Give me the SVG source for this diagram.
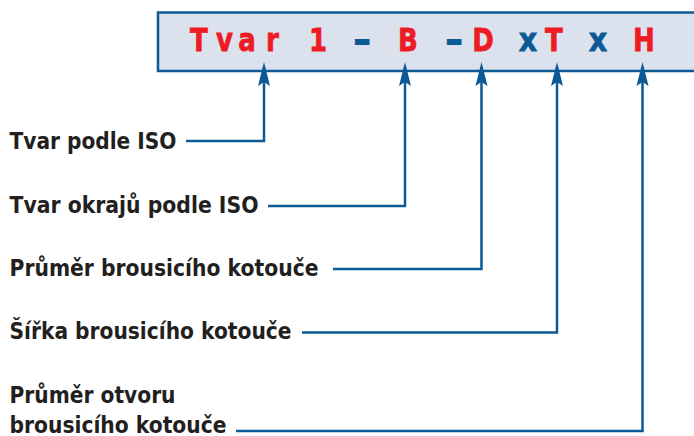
<svg xmlns="http://www.w3.org/2000/svg" width="694" height="436" viewBox="0 0 694 436">
<style>
.code{font-family:"DejaVu Sans","Verdana",sans-serif;font-weight:bold;font-size:32.5px;text-anchor:middle;stroke-width:0.8}
.r{fill:#ed1c24;stroke:#ed1c24}
.b{fill:#0b5a95;stroke:#0b5a95}
.d{stroke-width:1.8}
.lbl{font-family:"DejaVu Sans","Verdana",sans-serif;font-weight:bold;font-size:23px;fill:#231f20}
.conn{fill:none;stroke:#0b5a95;stroke-width:2.5;marker-end:url(#ah)}
</style>
<defs>
<marker id="ah" markerUnits="userSpaceOnUse" orient="auto" refX="0" refY="0" markerWidth="30" markerHeight="30" viewBox="-20 -8 30 16" style="overflow:visible">
<path d="M5,0 L-19,-6 L-15,0 L-19,6 Z" fill="#0b5a95"/>
</marker>
</defs>
<rect width="694" height="436" fill="#ffffff"/>
<g id="code-box">
<rect x="158" y="12.5" width="545" height="58.5" fill="#dbe2ee" stroke="#0b5a95" stroke-width="2.5"/>
<g transform="scale(0.8,1)" class="code">
<text class="r" x="248.75" y="51">T</text>
<text class="r" x="280.6" y="51">v</text>
<text class="r" x="308.75" y="51">a</text>
<text class="r" x="340.6" y="51">r</text>
<text class="r" x="397.5" y="51">1</text>
<text class="r" x="510" y="51">B</text>
<text class="r" x="603.75" y="51">D</text>
<text class="r" x="692.5" y="51">T</text>
<text class="r" x="805" y="51">H</text>
</g>
<g transform="scale(0.88,1)" class="code">
<text class="b" x="600" y="51">x</text>
<text class="b" x="679.5" y="51">x</text>
</g>
<g class="code">
<text class="b d" x="362" y="51">–</text>
<text class="b d" x="454" y="51">–</text>
</g>
</g>
<g id="connectors">
<path class="conn" d="M186,141 H264 V67"/>
<path class="conn" d="M268,206 H405 V67"/>
<path class="conn" d="M333,269 H481.5 V67"/>
<path class="conn" d="M302,332.5 H557 V67"/>
<path class="conn" d="M236,431 H642.5 V67"/>
</g>
<g id="label-tvar">
<text class="lbl" x="9.5" y="148.5" textLength="167" lengthAdjust="spacingAndGlyphs">Tvar podle ISO</text>
</g>
<g id="label-okraje">
<text class="lbl" x="9.5" y="213" textLength="249" lengthAdjust="spacingAndGlyphs">Tvar okrajů podle ISO</text>
</g>
<g id="label-prumer">
<text class="lbl" x="9.5" y="275.5" textLength="309" lengthAdjust="spacingAndGlyphs">Průměr brousicího kotouče</text>
</g>
<g id="label-sirka">
<text class="lbl" x="9.5" y="339" textLength="282" lengthAdjust="spacingAndGlyphs">Šířka brousicího kotouče</text>
</g>
<g id="label-otvor">
<text class="lbl" x="9.5" y="403" textLength="166" lengthAdjust="spacingAndGlyphs">Průměr otvoru</text>
<text class="lbl" x="9.5" y="432.5" textLength="217" lengthAdjust="spacingAndGlyphs">brousicího kotouče</text>
</g>
</svg>
